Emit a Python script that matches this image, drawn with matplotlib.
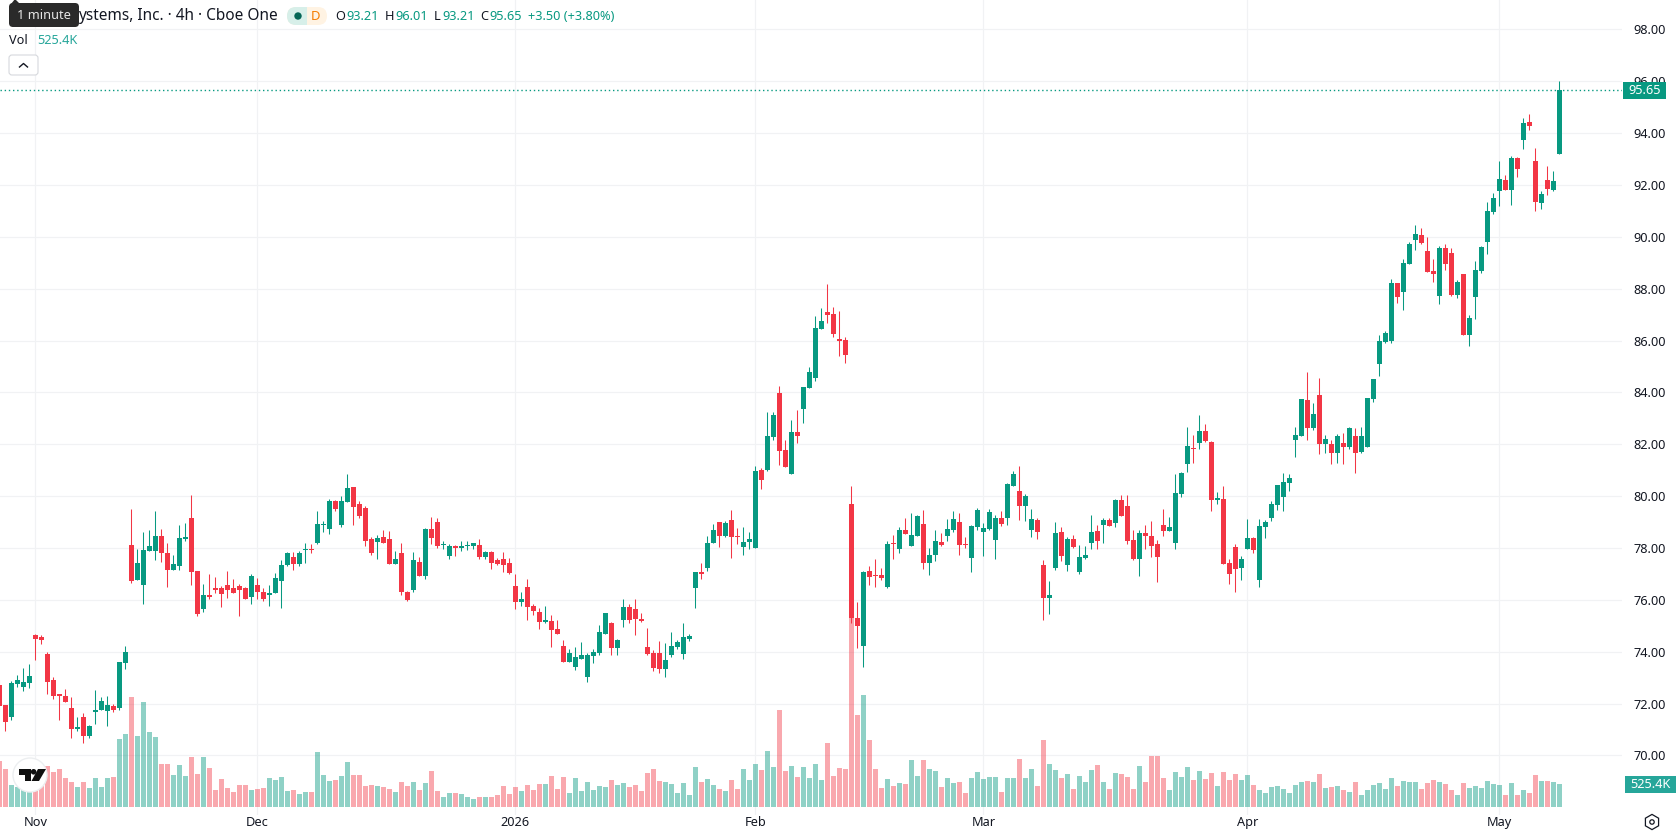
import matplotlib
matplotlib.use("Agg")
import matplotlib.pyplot as plt
from matplotlib.patches import FancyBboxPatch, Circle, Polygon, Rectangle, RegularPolygon

plt.rcParams["font.family"] = ["Noto Sans", "DejaVu Sans"]

# 4h candles, oldest first
opens = [
    72.70, 71.93, 71.50, 72.74, 72.66, 72.81, 74.63, 74.55, 73.93, 72.93,
    72.37, 72.31, 71.85, 71.04, 71.50, 70.77, 71.66, 71.74, 71.70, 71.89,
    71.85, 73.55, 78.10, 76.75, 76.56, 77.90, 77.87, 78.48, 77.79, 77.17,
    77.29, 78.33, 79.14, 77.10, 75.63, 76.17, 76.44, 76.44, 76.56, 76.44,
    76.52, 76.44, 76.13, 76.56, 76.32, 76.17, 76.25, 76.71, 77.33, 77.64,
    77.40, 77.94, 77.98, 78.18, 78.87, 78.75, 79.83, 78.87, 79.79, 80.37,
    79.68, 79.56, 78.33, 78.25, 78.41, 78.33, 77.40, 77.79, 76.32, 76.40,
    77.48, 76.94, 78.75, 79.02, 78.10, 77.71, 78.06, 78.02, 78.06, 78.06,
    78.10, 77.67, 77.83, 77.52, 77.56, 77.44, 76.52, 75.90, 76.48, 75.75,
    75.55, 75.13, 75.17, 74.86, 74.24, 73.62, 73.43, 73.74, 73.01, 73.82,
    73.97, 74.70, 75.09, 74.13, 75.21, 75.71, 75.63, 75.28, 74.20, 73.97,
    73.97, 73.32, 73.89, 74.20, 73.93, 74.51, 76.47, 77.09, 77.24, 78.20,
    79.01, 78.47, 79.09, 78.47, 78.05, 78.24, 78.01, 81.01, 81.01, 82.28,
    83.97, 81.78, 80.86, 82.47, 83.36, 84.17, 84.55, 86.44, 87.09, 87.01,
    86.05, 86.01, 79.71, 75.32, 74.24, 77.13, 76.97, 76.97, 76.51, 78.20,
    77.97, 78.70, 78.09, 78.47, 78.94, 77.44, 77.74, 78.24, 78.47, 78.70,
    79.01, 78.17, 77.63, 78.82, 78.63, 78.74, 78.32, 79.17, 79.17, 80.40,
    80.20, 79.63, 78.70, 79.09, 77.36, 76.09, 77.24, 78.63, 77.36, 78.36,
    77.09, 77.63, 78.20, 78.67, 78.90, 79.09, 78.97, 79.86, 79.63, 78.32,
    77.59, 78.59, 78.47, 78.17, 78.90, 78.67, 78.20, 80.09, 81.24, 81.86,
    82.05, 82.51, 82.09, 79.86, 79.90, 77.44, 78.05, 77.24, 77.97, 78.40,
    76.78, 78.82, 79.17, 79.67, 79.97, 80.51, 82.17, 82.32, 83.71, 82.63,
    83.91, 82.02, 82.02, 81.67, 82.06, 81.90, 82.32, 81.71, 81.90, 83.75,
    85.10, 85.95, 85.99, 88.22, 87.88, 88.96, 89.88, 90.08, 89.46, 88.69,
    87.72, 89.57, 89.38, 87.76, 88.57, 86.22, 87.68, 88.69, 89.80, 90.96,
    91.77, 92.20, 91.81, 93.04, 93.74, 94.43, 92.93, 91.31, 92.20, 91.81,
    93.21,
]
highs = [
    72.90, 71.93, 72.89, 73.12, 73.39, 73.51, 74.70, 74.63, 74.01, 73.01,
    72.39, 72.58, 72.24, 71.50, 71.62, 71.16, 72.51, 72.24, 72.28, 72.00,
    73.59, 74.24, 79.52, 77.98, 78.60, 78.68, 79.41, 78.75, 78.21, 77.75,
    78.87, 78.95, 80.06, 77.13, 76.63, 76.98, 76.90, 76.52, 77.10, 76.79,
    76.63, 76.48, 76.98, 76.83, 76.44, 76.56, 77.02, 77.52, 77.83, 77.83,
    77.87, 78.21, 78.14, 79.41, 79.06, 79.91, 79.87, 79.99, 80.84, 80.37,
    79.83, 79.64, 78.41, 78.52, 78.71, 78.64, 77.90, 78.21, 76.36, 77.83,
    77.64, 78.79, 79.18, 79.14, 78.29, 78.14, 78.10, 78.29, 78.29, 78.21,
    78.33, 77.87, 77.90, 77.60, 77.83, 77.60, 76.98, 76.32, 76.79, 75.86,
    75.67, 75.75, 75.40, 75.24, 74.47, 74.09, 74.20, 74.36, 73.97, 74.09,
    75.05, 75.51, 75.13, 74.51, 76.05, 75.86, 76.02, 75.51, 74.90, 74.05,
    74.40, 74.32, 74.78, 74.47, 75.09, 74.70, 77.09, 77.43, 78.47, 78.93,
    79.01, 79.05, 79.47, 78.78, 78.82, 78.63, 81.17, 81.09, 83.24, 83.24,
    84.24, 82.17, 82.94, 83.32, 84.21, 84.97, 86.93, 87.24, 88.17, 87.28,
    87.13, 86.13, 80.40, 75.93, 77.13, 77.32, 77.59, 77.24, 78.28, 78.51,
    78.82, 79.17, 79.36, 79.28, 79.47, 78.01, 78.70, 78.59, 79.13, 79.44,
    79.36, 78.44, 78.90, 79.55, 78.97, 79.51, 79.28, 79.44, 80.51, 80.97,
    81.17, 80.09, 79.51, 79.17, 77.55, 76.71, 79.01, 78.82, 78.43, 78.51,
    78.13, 78.09, 79.28, 78.90, 79.17, 79.17, 79.90, 80.05, 80.05, 78.70,
    78.70, 78.90, 79.05, 78.32, 79.51, 79.20, 80.86, 80.94, 82.67, 82.36,
    83.13, 82.78, 82.13, 80.17, 80.40, 77.59, 78.17, 77.70, 79.13, 78.43,
    79.13, 79.09, 79.82, 80.44, 80.90, 80.86, 82.67, 83.75, 84.79, 83.60,
    84.56, 82.36, 82.17, 82.40, 82.44, 82.67, 82.63, 82.67, 83.79, 84.52,
    86.22, 86.37, 88.38, 88.22, 89.15, 89.81, 90.46, 90.35, 90.00, 89.15,
    89.65, 89.73, 89.57, 88.34, 88.57, 86.99, 89.07, 89.65, 91.35, 91.69,
    92.93, 92.39, 93.12, 93.08, 94.59, 94.74, 93.43, 91.77, 92.74, 92.54,
    96.01,
]
lows = [
    71.70, 70.94, 71.36, 72.66, 72.47, 72.62, 73.70, 74.28, 72.39, 72.16,
    71.35, 72.08, 70.69, 70.94, 70.49, 70.66, 71.20, 71.74, 71.12, 71.66,
    71.74, 73.32, 76.67, 76.75, 75.86, 77.90, 77.52, 77.48, 76.48, 77.17,
    77.17, 78.29, 76.59, 75.36, 75.52, 76.02, 76.25, 75.71, 76.09, 76.25,
    75.36, 76.02, 75.86, 76.05, 75.94, 75.78, 76.25, 75.67, 77.29, 77.17,
    77.29, 77.44, 77.79, 78.14, 78.60, 78.56, 79.41, 78.83, 79.79, 78.87,
    79.14, 78.06, 77.75, 77.56, 78.18, 77.40, 77.40, 76.17, 75.94, 76.29,
    76.94, 76.79, 78.14, 78.02, 77.98, 77.56, 77.71, 77.87, 77.94, 77.98,
    77.56, 77.56, 77.21, 77.36, 77.06, 76.98, 75.63, 75.78, 75.21, 75.40,
    74.86, 75.09, 74.20, 74.70, 73.59, 73.62, 73.28, 73.74, 72.82, 73.55,
    73.89, 74.70, 73.89, 73.86, 74.94, 75.09, 74.63, 75.13, 73.89, 73.24,
    73.20, 73.01, 73.78, 74.09, 73.74, 74.40, 75.67, 76.82, 77.13, 78.20,
    78.05, 78.43, 77.63, 78.17, 77.74, 77.97, 78.01, 80.28, 80.97, 82.17,
    81.20, 81.13, 80.86, 82.05, 82.82, 84.17, 84.43, 86.44, 86.67, 86.13,
    85.40, 85.13, 75.09, 74.13, 73.43, 76.59, 76.51, 76.78, 76.47, 77.59,
    77.82, 78.55, 78.09, 78.47, 77.21, 76.97, 77.51, 78.09, 78.28, 78.63,
    77.74, 78.01, 77.09, 78.70, 77.70, 78.70, 77.59, 78.86, 78.90, 80.40,
    79.09, 79.05, 78.43, 78.36, 75.24, 75.44, 77.17, 77.51, 77.13, 78.01,
    77.01, 77.59, 77.97, 77.97, 78.20, 78.86, 78.82, 79.24, 78.17, 77.55,
    76.93, 77.97, 77.67, 76.70, 78.47, 78.67, 77.97, 79.97, 80.94, 81.28,
    81.82, 82.09, 79.43, 79.70, 77.40, 76.63, 76.32, 76.78, 77.97, 77.82,
    76.51, 78.40, 79.05, 79.47, 79.43, 80.20, 81.52, 82.32, 82.17, 82.56,
    81.63, 81.67, 81.25, 81.28, 81.25, 81.82, 80.90, 81.67, 81.90, 83.64,
    84.64, 85.91, 85.91, 87.45, 87.18, 88.96, 89.50, 89.73, 88.65, 88.26,
    87.41, 88.72, 87.72, 87.65, 86.22, 85.80, 86.84, 88.61, 89.34, 90.88,
    91.19, 91.81, 91.23, 92.31, 93.39, 94.12, 91.00, 91.08, 91.62, 91.77,
    93.21,
]
closes = [
    71.90, 71.31, 72.78, 72.93, 72.85, 73.08, 74.51, 74.47, 72.85, 72.31,
    72.31, 72.08, 71.04, 71.08, 70.77, 71.12, 71.77, 72.12, 71.93, 71.74,
    73.59, 74.01, 76.71, 77.44, 77.94, 78.06, 78.48, 77.79, 77.17, 77.40,
    78.37, 78.41, 77.06, 75.44, 76.17, 76.13, 76.40, 76.21, 76.40, 76.25,
    76.40, 76.02, 76.94, 76.29, 76.05, 76.25, 76.86, 77.36, 77.79, 77.40,
    77.79, 77.98, 77.94, 78.91, 78.91, 79.83, 79.52, 79.83, 80.30, 79.60,
    79.25, 78.29, 77.79, 78.37, 78.21, 77.40, 77.56, 76.29, 75.98, 77.52,
    76.94, 78.75, 78.37, 78.06, 78.14, 78.06, 78.02, 78.06, 78.10, 78.21,
    77.67, 77.83, 77.44, 77.40, 77.36, 77.02, 75.90, 76.05, 75.71, 75.59,
    75.13, 75.24, 74.82, 74.70, 73.62, 73.97, 73.78, 73.89, 73.86, 74.01,
    74.78, 75.51, 74.13, 74.44, 75.71, 75.24, 75.28, 75.17, 73.93, 73.39,
    73.32, 73.70, 74.24, 74.36, 74.55, 74.59, 77.09, 77.01, 78.20, 78.70,
    78.47, 78.97, 78.43, 78.43, 78.24, 78.36, 80.97, 80.63, 82.32, 83.13,
    81.74, 81.13, 82.47, 82.32, 84.21, 84.78, 86.47, 86.74, 86.97, 86.24,
    85.97, 85.44, 75.31, 75.01, 77.09, 76.90, 76.93, 76.86, 78.17, 78.17,
    78.70, 78.55, 78.51, 79.24, 77.44, 77.74, 78.28, 78.13, 78.74, 79.13,
    78.13, 78.13, 78.86, 79.47, 78.78, 79.40, 79.17, 78.94, 80.47, 80.86,
    79.63, 80.01, 79.13, 78.63, 76.09, 76.20, 78.59, 77.70, 78.36, 78.05,
    77.67, 77.74, 78.63, 78.28, 79.09, 78.86, 79.86, 79.24, 78.28, 77.59,
    78.59, 78.47, 78.09, 77.67, 78.67, 78.82, 80.13, 80.90, 81.94, 81.82,
    82.51, 82.13, 79.86, 79.94, 77.40, 77.01, 77.20, 77.59, 78.40, 77.94,
    78.86, 79.01, 79.70, 80.44, 80.55, 80.70, 82.36, 83.75, 82.63, 83.17,
    82.02, 82.21, 81.67, 82.32, 81.90, 82.63, 81.67, 82.32, 83.79, 84.52,
    85.99, 86.30, 88.22, 87.68, 88.99, 89.73, 90.11, 89.77, 88.65, 88.57,
    89.57, 88.96, 87.76, 88.26, 86.22, 86.87, 88.73, 89.61, 91.00, 91.50,
    92.23, 91.81, 93.04, 92.62, 94.39, 94.28, 91.35, 91.66, 91.85, 92.16,
    95.65,
]
# Traded volume per candle, in thousands of shares
volumes = [
    1049, 866, 502, 448, 388, 350, 616, 692, 935, 798,
    866, 661, 570, 456, 570, 433, 661, 456, 661, 684,
    1550, 1664, 2508, 1619, 2394, 1710, 1596, 980, 980, 730,
    958, 707, 1140, 752, 1140, 889, 388, 638, 433, 342,
    502, 502, 388, 410, 433, 661, 616, 684, 365, 388,
    296, 342, 342, 1254, 730, 593, 616, 707, 1026, 730,
    730, 479, 502, 479, 456, 410, 342, 570, 479, 570,
    388, 547, 821, 365, 228, 319, 319, 296, 228, 182,
    228, 228, 228, 274, 479, 296, 456, 365, 502, 388,
    524, 524, 707, 410, 684, 319, 661, 365, 570, 388,
    479, 456, 616, 502, 547, 456, 502, 365, 775, 866,
    593, 570, 524, 319, 547, 274, 912, 570, 638, 502,
    410, 365, 616, 410, 866, 616, 980, 844, 1277, 912,
    2212, 821, 935, 684, 912, 661, 980, 616, 1459, 707,
    889, 866, 4606, 2098, 2554, 1528, 866, 433, 638, 479,
    547, 524, 1072, 707, 1072, 866, 821, 456, 661, 547,
    570, 319, 661, 798, 638, 684, 684, 342, 661, 661,
    1094, 661, 866, 479, 1528, 980, 844, 661, 752, 410,
    707, 570, 844, 958, 570, 410, 775, 752, 684, 410,
    935, 570, 1163, 1163, 661, 388, 798, 684, 912, 616,
    821, 638, 775, 479, 798, 616, 752, 616, 730, 502,
    388, 319, 456, 479, 410, 319, 502, 570, 593, 570,
    752, 433, 456, 479, 388, 342, 570, 274, 388, 502,
    547, 410, 661, 479, 593, 570, 570, 410, 547, 616,
    570, 524, 388, 274, 547, 433, 479, 433, 593, 524,
    502, 274, 547, 274, 388, 319, 730, 593, 593, 570,
    525.4,
]
price_ticks = [70, 72, 74, 76, 78, 80, 82, 84, 86, 88, 90, 92, 94, 96, 98]
month_labels = ["Nov", "Dec", "2026", "Feb", "Mar", "Apr", "May"]
month_bars = [6, 43, 86, 126, 164, 208, 250]

UP = "#089981"
DOWN = "#f23645"
UP_VOL = (8 / 255, 153 / 255, 129 / 255, 0.45)
DOWN_VOL = (242 / 255, 54 / 255, 69 / 255, 0.43)
GRID = "#f1f2f4"
INK = "#131722"

W, H, PANE_R, PANE_B = 1678, 835, 1622, 815
PX_PER_BAR = 6.0
PX_PER_UNIT = 25.93
KILO_PER_PX = 22.85
x_first = -0.67       # pixel centre of the first bar
y_96 = 81.3           # pixel row of the 96.00 level
y_vol0 = 807.0        # pixel row of the volume baseline

fig = plt.figure(figsize=(W / 100, H / 100), dpi=100, facecolor="white")
pane = [0, 1 - PANE_B / H, PANE_R / W, PANE_B / H]

xlim = ((0 - x_first) / PX_PER_BAR, (PANE_R - x_first) / PX_PER_BAR)
ylim = (96 - (PANE_B - y_96) / PX_PER_UNIT, 96 + y_96 / PX_PER_UNIT)
vol_lim = ((y_vol0 - PANE_B) * KILO_PER_PX, y_vol0 * KILO_PER_PX)

# Bottom layer: grid and axis labels
ax_grid = fig.add_axes(pane, zorder=0)
ax_grid.set_xlim(xlim)
ax_grid.set_ylim(ylim)
ax_grid.set_yticks(price_ticks)
ax_grid.set_yticklabels([f"{p:.2f}" for p in price_ticks])
ax_grid.set_xticks(month_bars)
ax_grid.set_xticklabels(month_labels)
ax_grid.yaxis.tick_right()
ax_grid.tick_params(axis="y", length=0, pad=8, labelsize=9.2, labelcolor=INK)
ax_grid.tick_params(axis="x", length=0, pad=1, labelsize=9.2, labelcolor=INK)
ax_grid.get_xticklabels()[2].set_fontweight("bold")
ax_grid.grid(True, color=GRID, linewidth=0.85)
ax_grid.set_axisbelow(True)
for s in ax_grid.spines.values():
    s.set_visible(False)

n = len(closes)
xs = list(range(n))
rising = [c >= o for o, c in zip(opens, closes)]

# Volume histogram
ax_vol = fig.add_axes(pane, zorder=1)
ax_vol.patch.set_visible(False)
ax_vol.set_xlim(xlim)
ax_vol.set_ylim(vol_lim)
ax_vol.axis("off")
ax_vol.bar(xs, volumes, width=5 / PX_PER_BAR, linewidth=0,
           color=[UP_VOL if r else DOWN_VOL for r in rising])

# Candles
ax = fig.add_axes(pane, zorder=2)
ax.patch.set_visible(False)
ax.set_xlim(xlim)
ax.set_ylim(ylim)
ax.axis("off")
colors = [UP if r else DOWN for r in rising]
ax.vlines(xs, lows, highs, colors=colors, linewidth=0.75)
ax.bar(xs, [abs(c - o) for o, c in zip(opens, closes)], bottom=[min(o, c) for o, c in zip(opens, closes)],
       width=5 / PX_PER_BAR, color=colors, linewidth=0)
ax.axhline(closes[-1], color=UP, linewidth=1.0, linestyle=(0, (1, 2)))

# Chart furniture, placed in pixel coordinates
ui = fig.add_axes([0, 0, 1, 1], zorder=3)
ui.patch.set_visible(False)
ui.set_xlim(0, W)
ui.set_ylim(H, 0)
ui.axis("off")


def label(x, y, s, color=INK, size=9.4, ha="left", **kw):
    ui.text(x, y, s, color=color, fontsize=size, ha=ha, va="center", **kw)


# Header line
label(278, 16.5, "ystems, Inc. · 4h · Cboe One", size=11.1, ha="right")
ui.add_patch(FancyBboxPatch((287, 7), 40, 18, boxstyle="round,pad=0,rounding_size=9",
                            facecolor="#fff3e3", edgecolor="none"))
clip = Rectangle((287, 7), 20, 18, transform=ui.transData)
pill_left = FancyBboxPatch((287, 7), 40, 18, boxstyle="round,pad=0,rounding_size=9",
                           facecolor="#d7efe9", edgecolor="none")
ui.add_patch(pill_left)
pill_left.set_clip_path(clip)
ui.add_patch(Circle((298, 16), 3.7, facecolor="#056656", edgecolor="none"))
label(316, 16.5, "D", color="#f57c00", size=9.4, ha="center", fontweight="medium")

ohlc_x = [(335, "O", 346, "93.21"), (385, "H", 395, "96.01"),
          (434, "L", 442, "93.21"), (480, "C", 489, "95.65")]
for x0, key, x1, val in ohlc_x:
    label(x0, 16.5, key, size=9.2)
    label(x1, 16.5, val, color=UP, size=9.2)
label(528, 16.5, "+3.50 (+3.80%)", color=UP, size=9.2)

label(9, 41, "Vol", size=9.2)
label(37, 41, "525.4K", color="#26a69a", size=9.2)

# Collapse button
ui.add_patch(FancyBboxPatch((9, 55), 29, 20, boxstyle="round,pad=0,rounding_size=3",
                            facecolor="white", edgecolor="#d6d8dd", linewidth=0.8))
ui.plot([19.5, 23.5, 27.5], [67, 63.5, 67], color=INK, linewidth=1.0)

# Tooltip covering the start of the title
ui.add_patch(FancyBboxPatch((9, 3), 70, 24, boxstyle="round,pad=0,rounding_size=4",
                            facecolor="#2a2a2a", edgecolor="none"))
ui.add_patch(Polygon([[11, 4], [15, -1], [20, 4]], facecolor="#2a2a2a", edgecolor="none"))
label(44, 15.5, "1 minute", color="#e6e6e6", size=9.2, ha="center")

# Last price and last volume flags
ui.add_patch(Rectangle((1623, 82), 43, 17, facecolor=UP, edgecolor="none"))
label(1644.5, 90.5, f"{closes[-1]:.2f}", color="white", size=9.2, ha="center")
ui.add_patch(Rectangle((1625, 776), 51, 17, facecolor="#26a69a", edgecolor="none"))
label(1650.5, 784.5, "525.4K", color="white", size=9.2, ha="center")

# Settings icon
ui.add_patch(RegularPolygon((1652, 822), 6, radius=7.6, orientation=0,
                            facecolor="white", edgecolor=INK, linewidth=0.9))
ui.add_patch(Circle((1652, 822), 2.2, facecolor="white", edgecolor=INK, linewidth=0.9))

# Watermark badge
ui.add_patch(Circle((30, 775), 17, facecolor="white", edgecolor="#eceef0", linewidth=1.0))
ui.add_patch(Polygon([[18.6, 769], [30.5, 769], [30.5, 781], [25, 781], [25, 775], [18.6, 775]],
                     facecolor="#0f0f0f", edgecolor="none"))
ui.add_patch(Circle((33.6, 771.8), 2.8, facecolor="#0f0f0f", edgecolor="none"))
ui.add_patch(Polygon([[38, 769], [46, 769], [39, 781], [31.5, 781]],
                     facecolor="#0f0f0f", edgecolor="none"))

fig.savefig("out.png", dpi=100, facecolor="white")
